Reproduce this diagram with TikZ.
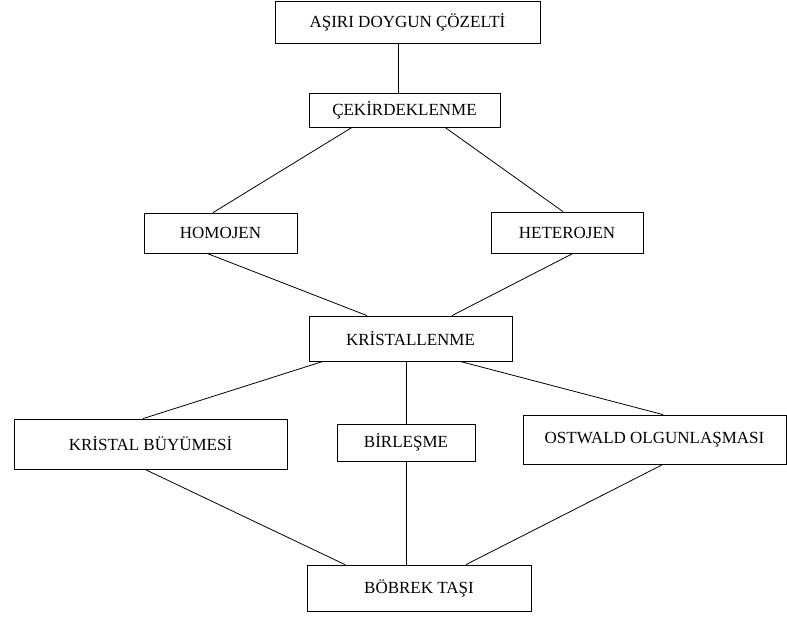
\documentclass[tikz,border=0pt]{standalone}
\usepackage{fontspec}
\setmainfont{Liberation Serif}
\usepackage{tikz}

\begin{document}
\begin{tikzpicture}[x=1pt,y=-1pt,line width=0.8pt,
  kutu/.style={draw,inner sep=0pt,font=\fontsize{17}{19}\selectfont}]
\useasboundingbox (0,0) rectangle (787,616);

% Boxes
\node[kutu,minimum width=265pt,minimum height=42pt] (cozelti) at (407.5,22) {AŞIRI DOYGUN ÇÖZELTİ};
\node[kutu,minimum width=191pt,minimum height=34pt] (cek) at (404.5,110) {ÇEKİRDEKLENME};
\node[kutu,minimum width=153pt,minimum height=40pt] (homojen) at (220.5,233) {HOMOJEN};
\node[kutu,minimum width=152pt,minimum height=41pt] (heterojen) at (567,232.5) {HETEROJEN};
\node[kutu,minimum width=203pt,minimum height=45pt] (kristal) at (410.5,338.5) {KRİSTALLENME};
\node[kutu,minimum width=273pt,minimum height=50pt] (buyume) at (150.5,444) {KRİSTAL BÜYÜMESİ};
\node[kutu,minimum width=138pt,minimum height=37pt] (birlesme) at (406,442.5) {BİRLEŞME};
\node[kutu,minimum width=263pt,minimum height=49pt] (ostwald) at (654.5,439.5) {OSTWALD OLGUNLAŞMASI};
\node[kutu,minimum width=224pt,minimum height=46pt] (tas) at (419,588) {BÖBREK TAŞI};

% Connectors
\draw ([xshift=-6.5pt]cek.north) -- ([xshift=-6.5pt]cek.north |- cozelti.south);
\draw ([xshift=-52.5pt]cek.south) -- ([xshift=-7.5pt]homojen.north);
\draw ([xshift=40.5pt]cek.south) -- ([xshift=-4pt]heterojen.north);
\draw ([xshift=-13.5pt]homojen.south) -- ([xshift=-43.5pt]kristal.north);
\draw ([xshift=6pt]heterojen.south) -- ([xshift=41.5pt]kristal.north);
\draw ([xshift=-87.5pt]kristal.south) -- ([xshift=-7.5pt]buyume.north);
\draw (birlesme.north) -- (birlesme.north |- kristal.south);
\draw ([xshift=49.5pt]kristal.south) -- ([xshift=8.5pt]ostwald.north);
\draw ([xshift=-5.5pt]buyume.south) -- ([xshift=-74pt]tas.north);
\draw (birlesme.south) -- (birlesme.south |- tas.north);
\draw ([xshift=8.5pt]ostwald.south) -- ([xshift=47pt]tas.north);
\end{tikzpicture}
\end{document}
